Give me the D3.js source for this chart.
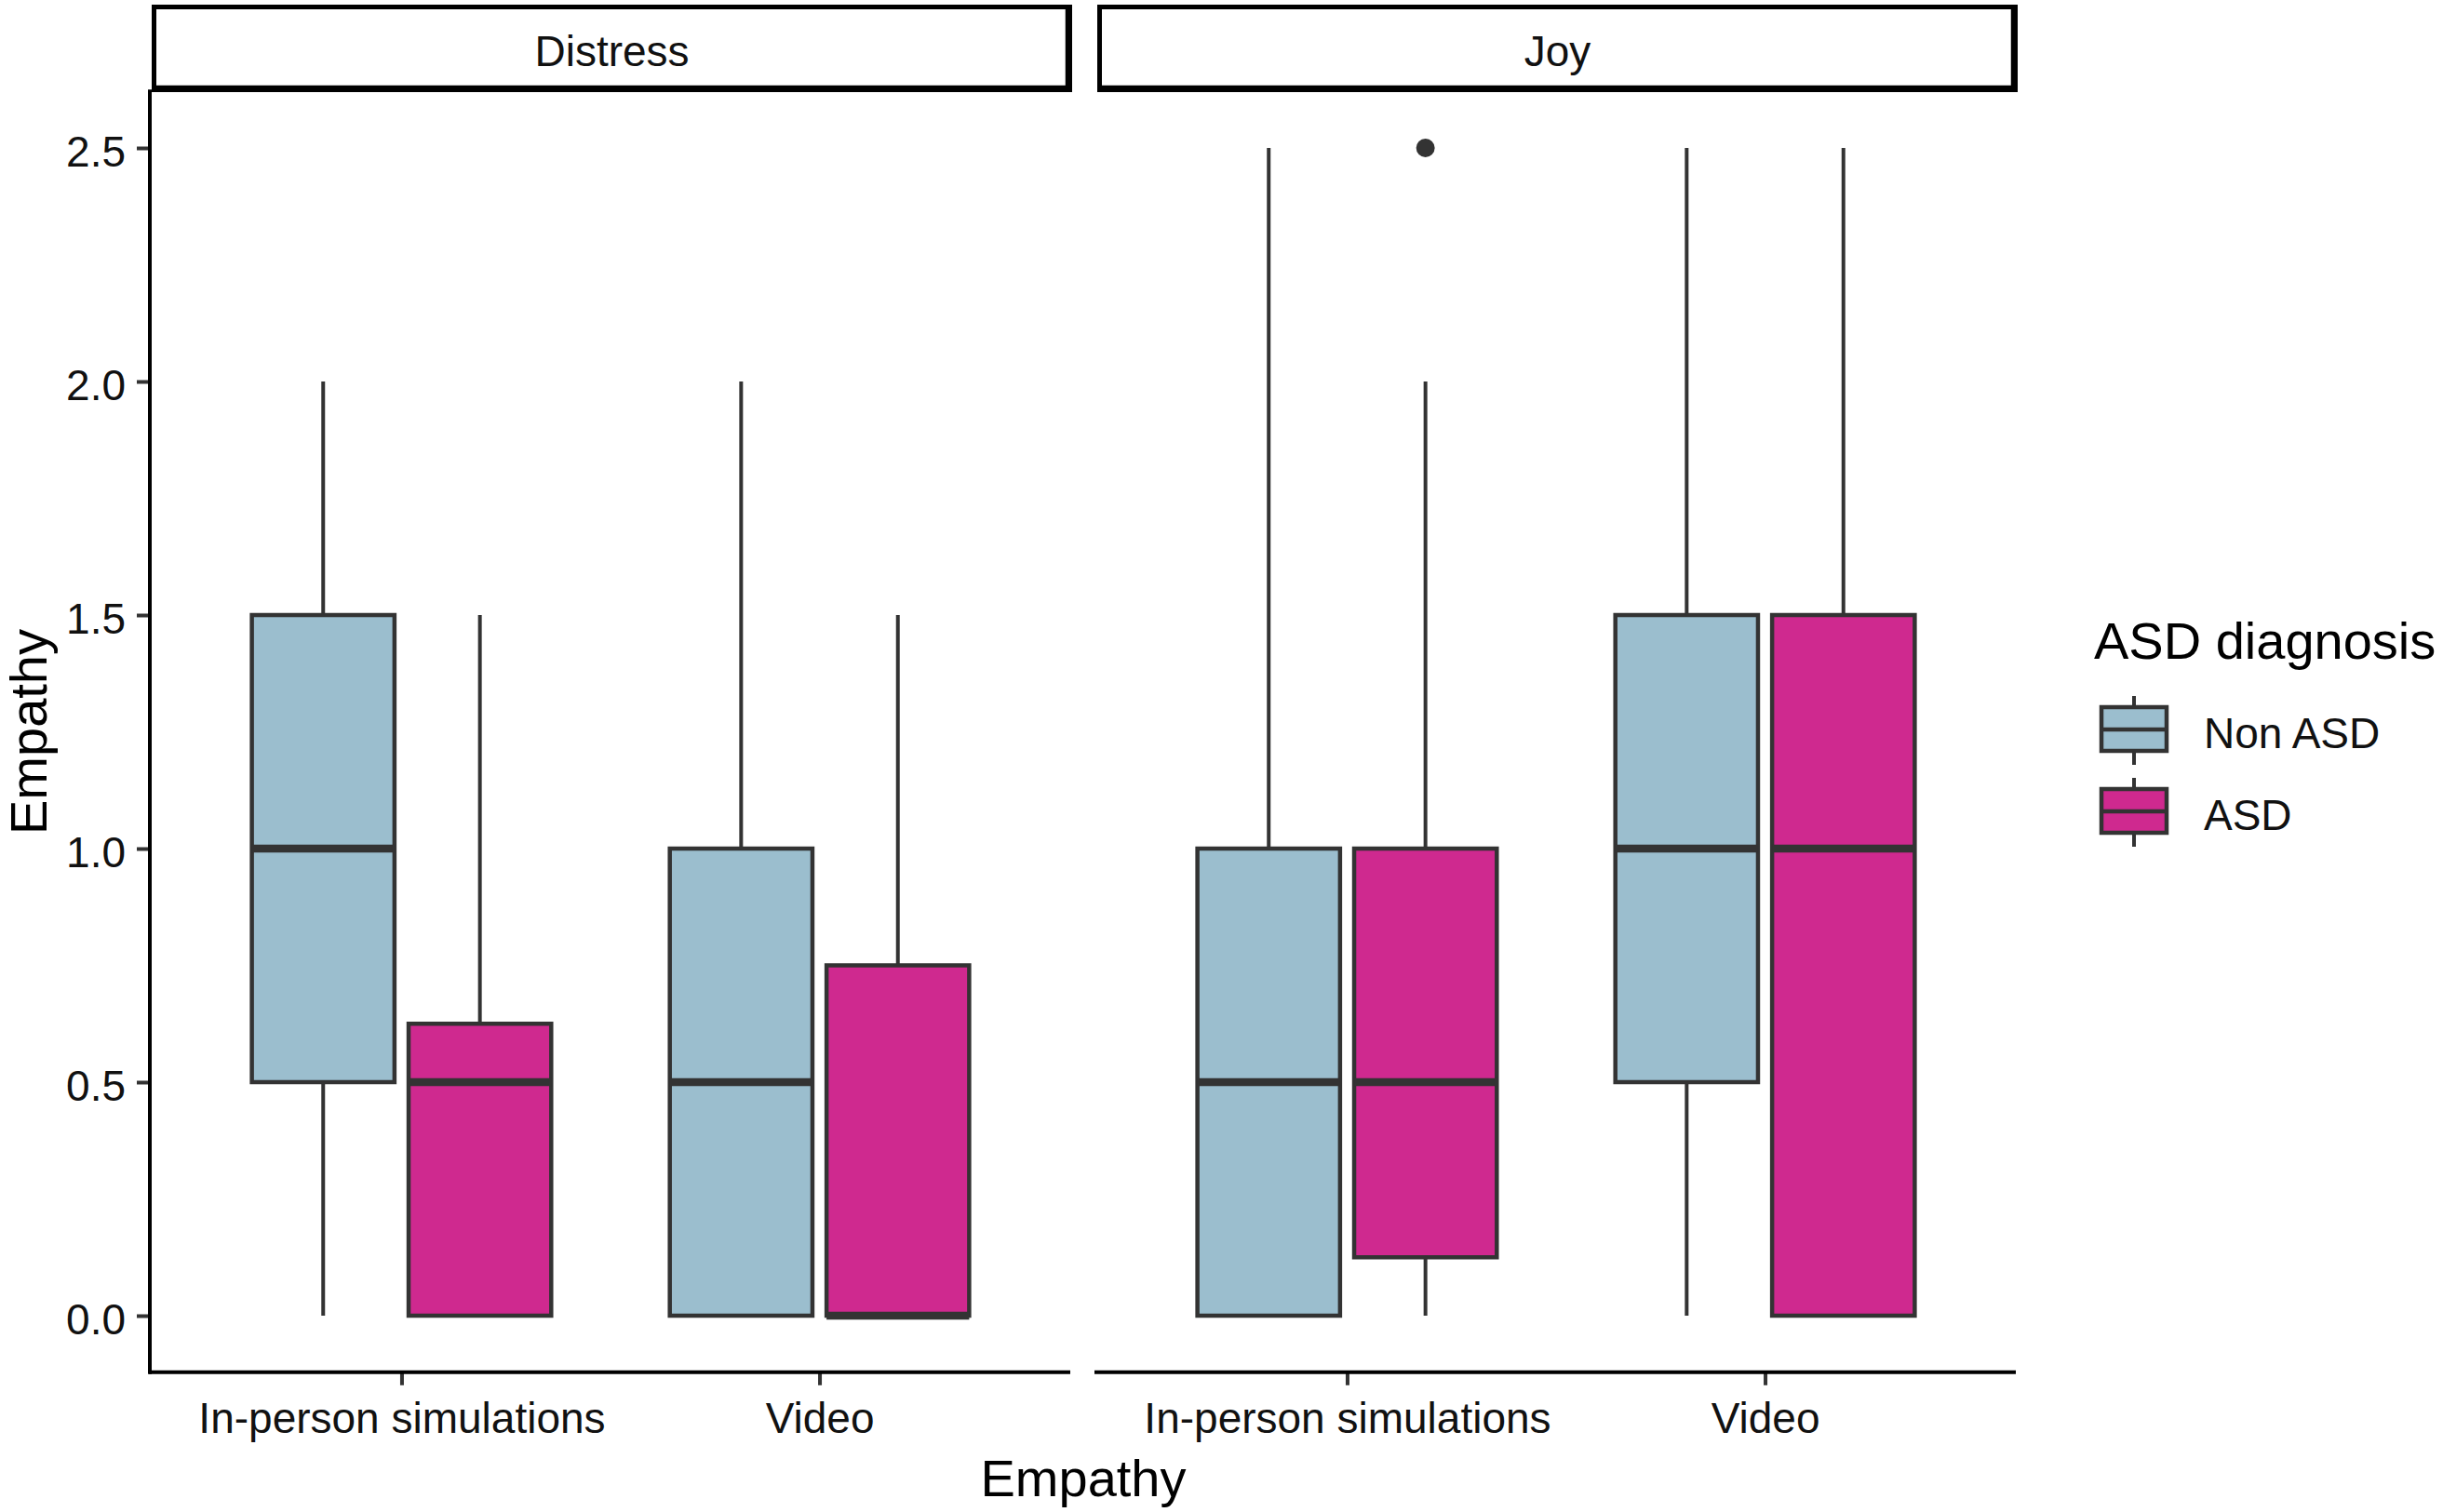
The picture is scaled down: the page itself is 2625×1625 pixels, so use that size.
<!DOCTYPE html>
<html>
<head>
<meta charset="utf-8">
<script src="https://cdn.jsdelivr.net/npm/d3@7"></script>
<style>
  html, body { margin: 0; padding: 0; background: #fff; }
  svg { display: block; font-family: "Liberation Sans", Arial, sans-serif; }
</style>
</head>
<body>
<svg id="chart" width="2625" height="1625"></svg>
<script>
// ---------------- data ----------------
const facets = ["Distress", "Joy"];
const conditions = ["In-person simulations", "Video"];
const groups = ["Non ASD", "ASD"];
const groupColors = ["#9BBECE", "#CF298F"];
const yTicks = [0.0, 0.5, 1.0, 1.5, 2.0, 2.5];

// box stats per facet / condition / group: [lowerWhisker, q1, median, q3, upperWhisker]
const distressInPerson = [[0, 0.5, 1.0, 1.5, 2.0], [0, 0, 0.5, 0.625, 1.5]];
const distressVideo    = [[0, 0, 0.5, 1.0, 2.0],   [0, 0, 0, 0.75, 1.5]];
const joyInPerson      = [[0, 0, 0.5, 1.0, 2.5],   [0, 0.125, 0.5, 1.0, 2.0]];
const joyVideo         = [[0, 0.5, 1.0, 1.5, 2.5], [0, 0, 1.0, 1.5, 2.5]];
// outliers: [facet, condition, group, value]
const outliers = [["Joy", "In-person simulations", "ASD", 2.5]];

const stats = {
  "Distress": {"In-person simulations": distressInPerson, "Video": distressVideo},
  "Joy": {"In-person simulations": joyInPerson, "Video": joyVideo}
};

// ---------------- layout ----------------
const svg = d3.select("#chart");
const panelTop = 96.25, panelBottom = 1476.75;
const panels = [{x0: 162, x1: 1150}, {x0: 1178, x1: 2166}];
const lineCol = "#333333";
const txtCol = "#111";
const smallFont = 46;

const y = d3.scaleLinear().domain([-0.125, 2.625]).range([panelBottom, panelTop]);

facets.forEach((facet, fi) => {
  const p = panels[fi];
  const x = d3.scalePoint().domain(conditions).range([p.x0, p.x1]).padding(0.6);
  const step = x.step();
  const dodge = d3.scaleBand().domain(groups).range([-0.375 * step, 0.375 * step]).padding(0);
  const bw = dodge.bandwidth() * 0.91;

  const g = svg.append("g");

  // strip
  const sx0 = p.x0 + 1, sx1 = p.x1 + 2, sy0 = 5, sy1 = 99;
  g.append("rect")
    .attr("x", sx0 + 2.5).attr("y", sy0 + 2.5)
    .attr("width", sx1 - sx0 - 5).attr("height", sy1 - sy0 - 5)
    .attr("fill", "#fff").attr("stroke", "#000").attr("stroke-width", 5);
  g.append("line").attr("x1", sx1 - 6).attr("x2", sx1 - 6).attr("y1", sy0 + 2).attr("y2", sy1)
    .attr("stroke", "#000").attr("stroke-width", 2.5);
  g.append("line").attr("x1", sx0 + 2).attr("x2", sx1).attr("y1", sy1 - 6).attr("y2", sy1 - 6)
    .attr("stroke", "#000").attr("stroke-width", 2.5);
  g.append("text")
    .attr("x", (sx0 + sx1) / 2).attr("y", 71)
    .attr("text-anchor", "middle").attr("font-size", smallFont).attr("fill", txtCol)
    .text(facet);

  // boxes
  conditions.forEach(cond => {
    groups.forEach((grp, gi) => {
      const [lo, q1, med, q3, hi] = stats[facet][cond][gi];
      const cx = x(cond) + dodge(grp) + dodge.bandwidth() / 2;
      const bg = g.append("g");
      if (hi > q3) bg.append("line").attr("x1", cx).attr("x2", cx).attr("y1", y(q3)).attr("y2", y(hi))
        .attr("stroke", lineCol).attr("stroke-width", 4);
      if (lo < q1) bg.append("line").attr("x1", cx).attr("x2", cx).attr("y1", y(q1)).attr("y2", y(lo))
        .attr("stroke", lineCol).attr("stroke-width", 4);
      bg.append("rect")
        .attr("x", cx - bw / 2).attr("y", y(q3))
        .attr("width", bw).attr("height", y(q1) - y(q3))
        .attr("fill", groupColors[gi]).attr("stroke", lineCol).attr("stroke-width", 4.5);
      bg.append("line").attr("x1", cx - bw / 2).attr("x2", cx + bw / 2)
        .attr("y1", y(med)).attr("y2", y(med))
        .attr("stroke", lineCol).attr("stroke-width", 8.5);
    });
  });

  // outliers
  outliers.filter(o => o[0] === facet).forEach(o => {
    const cx = x(o[1]) + dodge(o[2]) + dodge.bandwidth() / 2;
    g.append("circle").attr("cx", cx).attr("cy", y(o[3])).attr("r", 10).attr("fill", lineCol);
  });

  // x axis
  const xAxis = g.append("g").attr("transform", `translate(0,${panelBottom - 2})`)
    .call(d3.axisBottom(x).tickSize(14).tickPadding(14));
  xAxis.select(".domain").remove();
  xAxis.append("line").attr("x1", p.x0 - 2).attr("x2", p.x1).attr("y1", 0).attr("y2", 0)
    .attr("stroke", "#000").attr("stroke-width", 4);
  xAxis.selectAll(".tick line").attr("stroke", lineCol).attr("stroke-width", 4);
  xAxis.selectAll(".tick text").attr("font-size", smallFont).attr("fill", txtCol)
    .attr("font-family", "Liberation Sans, Arial, sans-serif")
    .attr("dy", null).attr("y", 0)
    .attr("transform", "translate(0,65)");

  // y axis on first panel
  if (fi === 0) {
    const yAxis = g.append("g").attr("transform", `translate(${p.x0 - 1},0)`)
      .call(d3.axisLeft(y).tickValues(yTicks).tickFormat(d3.format(".1f")).tickSize(14).tickPadding(12));
    yAxis.select(".domain").remove();
    yAxis.append("line").attr("x1", 0).attr("x2", 0).attr("y1", panelTop).attr("y2", panelBottom)
      .attr("stroke", "#000").attr("stroke-width", 4);
    yAxis.selectAll(".tick line").attr("stroke", lineCol).attr("stroke-width", 4);
    yAxis.selectAll(".tick text").attr("font-size", smallFont).attr("fill", txtCol)
      .attr("font-family", "Liberation Sans, Arial, sans-serif")
      .attr("dy", "0.42em");
  }
});

// axis titles
svg.append("text")
  .attr("x", (panels[0].x0 + panels[1].x1) / 2).attr("y", 1608)
  .attr("text-anchor", "middle").attr("font-size", 56).attr("fill", "#000")
  .text("Empathy");
svg.append("text")
  .attr("transform", `translate(50,${(panelTop + panelBottom) / 2}) rotate(-90)`)
  .attr("text-anchor", "middle").attr("font-size", 56).attr("fill", "#000")
  .text("Empathy");

// legend
const leg = svg.append("g");
leg.append("text").attr("x", 2250).attr("y", 708).attr("font-size", 56).attr("fill", "#000")
  .text("ASD diagnosis");
groups.forEach((grp, gi) => {
  const cy = 784 + gi * 88;
  const kx = 2293;
  leg.append("line").attr("x1", kx).attr("x2", kx).attr("y1", cy - 36).attr("y2", cy + 38)
    .attr("stroke", lineCol).attr("stroke-width", 4);
  leg.append("rect").attr("x", kx - 35).attr("y", cy - 24).attr("width", 70).attr("height", 47)
    .attr("fill", groupColors[gi]).attr("stroke", lineCol).attr("stroke-width", 4.5);
  leg.append("line").attr("x1", kx - 35).attr("x2", kx + 35).attr("y1", cy).attr("y2", cy)
    .attr("stroke", lineCol).attr("stroke-width", 4.5);
  leg.append("text").attr("x", 2368).attr("y", cy + 20).attr("font-size", smallFont).attr("fill", txtCol)
    .text(grp);
});
</script>
</body>
</html>
